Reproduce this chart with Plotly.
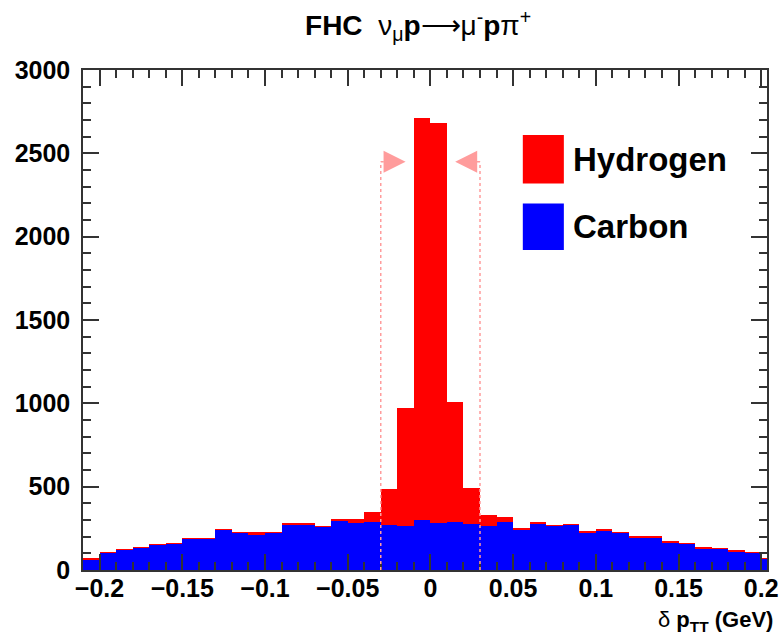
import numpy as np
import plotly.graph_objects as go

# Binning of delta p_TT (GeV): 42 bins of 0.01 GeV from -0.21 to 0.21
bin_width = 0.01
bin_low_edges = np.round(np.arange(-0.21, 0.21 - 1e-9, bin_width), 3)
bin_centers = bin_low_edges + bin_width / 2

# Selected event counts per bin, carbon background
carbon_counts = [64, 104, 120, 134, 154, 160, 190, 190, 240, 226,
                 210, 226, 274, 274, 262, 298, 282, 288, 272, 266,
                 300, 280, 286, 276, 262, 288, 244, 280, 264, 272,
                 224, 236, 224, 192, 190, 166, 160, 130, 130, 110,
                 104, 70]
# Hydrogen signal stacked on top of carbon
hydrogen_counts = [10, 2, 2, 2, 2, 2, 2, 2, 2, 2,
                   16, 2, 10, 8, 2, 4, 22, 62, 216, 704,
                   2410, 2400, 724, 214, 68, 28, 8, 4, 2, 2,
                   12, 8, 2, 8, 14, 8, 2, 10, 2, 10,
                   2, 2]

series_names = ["Hydrogen", "Carbon"]
series_colors = {"Hydrogen": "#ff0000", "Carbon": "#0000ff"}

x_tick_vals = [-0.2, -0.15, -0.1, -0.05, 0.0, 0.05, 0.1, 0.15, 0.2]
x_tick_text = ["\u22120.2", "\u22120.15", "\u22120.1", "\u22120.05", "0",
               "0.05", "0.1", "0.15", "0.2"]
y_tick_vals = [0, 500, 1000, 1500, 2000, 2500, 3000]
y_tick_text = ["0", "500", "1000", "1500", "2000", "2500", "3000"]

# Selection cut |delta p_TT| < 0.03 GeV, marker drawn up to this height
cut_value = 0.03
cut_marker_height = 2450

FONT = "Liberation Sans"
CUT_COLOR = "#ff9c9c"

fig = go.Figure()
fig.add_trace(go.Bar(x=bin_centers, y=carbon_counts, width=bin_width,
                     name="Carbon", marker=dict(color=series_colors["Carbon"], line=dict(width=0)),
                     showlegend=False))
fig.add_trace(go.Bar(x=bin_centers, y=hydrogen_counts, width=bin_width,
                     name="Hydrogen", marker=dict(color=series_colors["Hydrogen"], line=dict(width=0)),
                     showlegend=False))

shapes = []
annotations = []
# dotted cut lines with arrows pointing inward
for side in (-1, 1):
    xc = side * cut_value
    shapes.append(dict(type="line", xref="x", yref="y", x0=xc, x1=xc, y0=0, y1=cut_marker_height,
                       line=dict(color=CUT_COLOR, width=1.5, dash="dot"), layer="above"))
    shapes.append(dict(type="line", xref="x", yref="y", x0=xc, x1=xc - side * 0.008,
                       y0=cut_marker_height, y1=cut_marker_height,
                       line=dict(color=CUT_COLOR, width=1.5, dash="dot"), layer="above"))
    annotations.append(dict(x=xc - side * 0.015, y=cut_marker_height, xref="x", yref="y",
                            ax=side * 14, ay=0, axref="pixel", ayref="pixel",
                            showarrow=True, arrowhead=2, arrowsize=2.2, arrowwidth=2,
                            arrowcolor=CUT_COLOR, text=""))

# legend boxes with labels
legend_rows = [(series_names[0], 0.870, 0.773), (series_names[1], 0.733, 0.640)]
for name, ytop, ybot in legend_rows:
    shapes.append(dict(type="rect", xref="paper", yref="paper", x0=0.643, x1=0.703,
                       y0=ybot, y1=ytop, fillcolor=series_colors[name], line=dict(width=0)))
    annotations.append(dict(x=0.713, y=(ytop + ybot) / 2, xref="paper", yref="paper",
                            xanchor="left", yanchor="middle", showarrow=False,
                            text="<b>%s</b>" % name,
                            font=dict(family=FONT, size=33, color="black")))

# axis title at the bottom right
annotations.append(dict(x=1.011, y=-0.101, xref="paper", yref="paper", xanchor="right",
                        yanchor="middle", showarrow=False,
                        text="δ <b>p</b><sub><b>TT</b></sub> <b>(GeV)</b>",
                        font=dict(family=FONT, size=22, color="black")))

axis_common = dict(showline=True, linecolor="#333333", linewidth=1.5, mirror="allticks",
                   ticks="inside", tickcolor="#333333", tickwidth=1.5, ticklen=16,
                   showgrid=False, zeroline=False,
                   tickfont=dict(family=FONT, size=25, color="black", weight="bold"))

fig.update_layout(
    barmode="stack", bargap=0, bargroupgap=0,
    width=780, height=638,
    margin=dict(l=83, r=13, t=70, b=68, autoexpand=False),
    paper_bgcolor="white", plot_bgcolor="white",
    title=dict(text="<b>FHC</b>  ν<sub>μ</sub><b>p</b>⟶μ<sup>-</sup><b>p</b>π<sup>+</sup>",
               x=0.536, xref="container", xanchor="center",
               y=0.960, yref="container", yanchor="middle",
               font=dict(family=FONT, size=28, color="black")),
    xaxis=dict(range=[-0.21, 0.2035], tickvals=x_tick_vals, ticktext=x_tick_text,
               minor=dict(dtick=bin_width, tick0=0, ticks="inside", ticklen=8,
                          tickcolor="#333333", tickwidth=1.5),
               ticklabelstandoff=-5, **axis_common),
    yaxis=dict(range=[0, 3000], tickvals=y_tick_vals, ticktext=y_tick_text,
               minor=dict(dtick=100, tick0=0, ticks="inside", ticklen=8,
                          tickcolor="#333333", tickwidth=1.5),
               ticklabelstandoff=6, **axis_common),
    shapes=shapes, annotations=annotations,
)

fig.write_html("out.html")
